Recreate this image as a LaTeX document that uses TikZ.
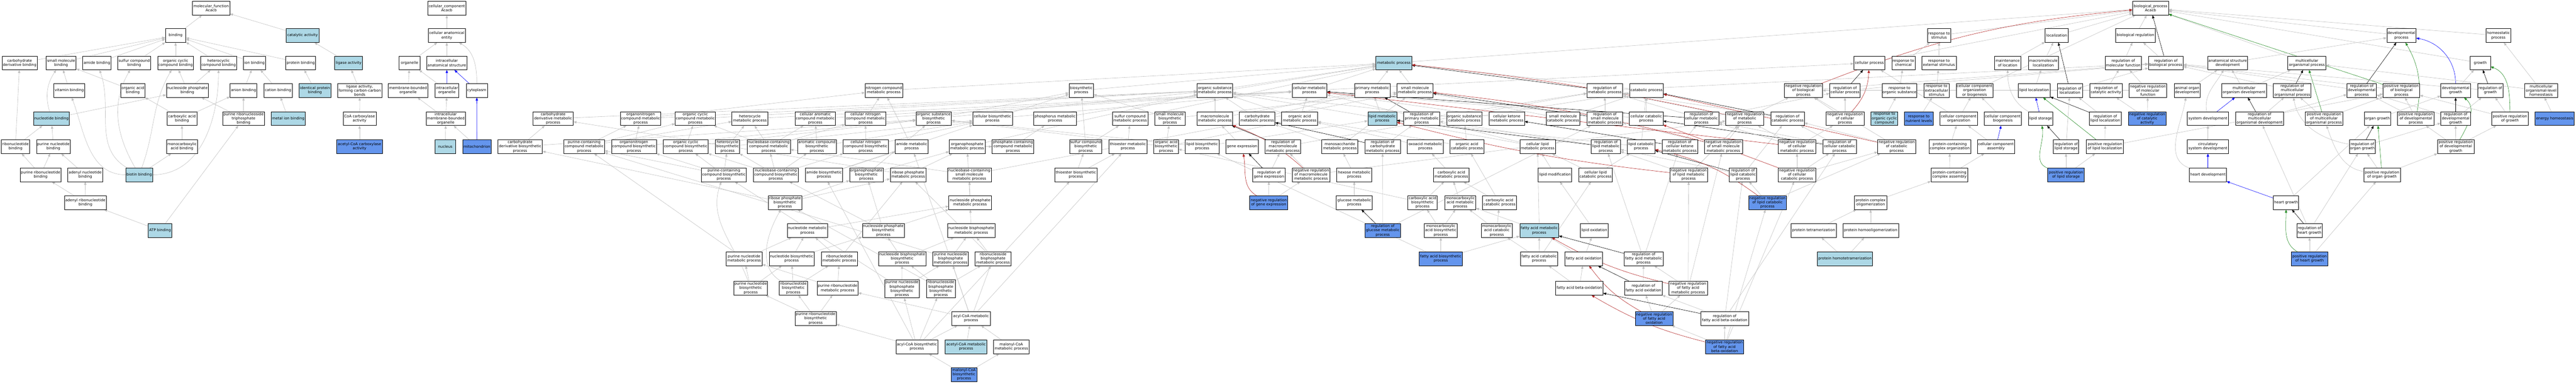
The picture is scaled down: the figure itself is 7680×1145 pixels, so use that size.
\documentclass[tikz,border=0pt]{standalone}
\usepackage{fontspec}
\setmainfont{DejaVu Sans}
\usetikzlibrary{arrows.meta,backgrounds}

\definecolor{hitblue}{RGB}{173,216,230}
\definecolor{focusblue}{RGB}{100,149,237}
\definecolor{edgegray}{RGB}{192,192,192}
\definecolor{negred}{RGB}{178,34,34}
\definecolor{posgreen}{RGB}{34,139,34}

\begin{document}
\begin{tikzpicture}[
  x=1pt, y=-1pt,
  >={Triangle[length=9pt,width=7pt]},
  font=\fontsize{11pt}{12.8pt}\selectfont,
  term/.style={draw=black, line width=1pt, fill=white, inner xsep=1pt, inner ysep=0pt, align=center, minimum height=41pt},
  hit/.style={term, fill=hitblue},
  focus/.style={term, fill=focusblue},
  w/.style={minimum width=#1pt},
  tall/.style={minimum height=54pt},
  isa/.style={->, draw=edgegray, line width=0.9pt},
  partof/.style={->, draw=blue, line width=0.9pt},
  reg/.style={->, draw=black, line width=0.9pt},
  negreg/.style={->, draw=negred, line width=0.9pt},
  posreg/.style={->, draw=posgreen, line width=0.9pt}
]
\useasboundingbox (0,0) rectangle (7680,1145);

% ---------------- molecular function ----------------
\node[term,w=111] (mf) at (629.5,24.5) {molecular\_function\\Acacb};
\node[term,w=61] (binding) at (523.5,106) {binding};
\node[hit,w=98] (catalytic) at (902,106) {catalytic activity};
\node[term,w=105] (carbderivbind) at (58.5,187.7) {carbohydrate\\derivative binding};
\node[term,w=90] (smallmolbind) at (182,187.7) {small molecule\\binding};
\node[term,w=84] (amidebind) at (289,187.7) {amide binding};
\node[term,w=98] (sulfurbind) at (400,187.7) {sulfur compound\\binding};
\node[term,w=107] (orgcycbind) at (523.5,187.7) {organic cyclic\\compound binding};
\node[term,w=107] (heterocycbind) at (651.5,187.7) {heterocyclic\\compound binding};
\node[term,w=67] (ionbind) at (758.5,187.7) {ion binding};
\node[term,w=89] (proteinbind) at (896.5,187.7) {protein binding};
\node[hit,w=83] (ligase) at (1039.5,187.7) {ligase activity};
\node[term,w=91] (vitbind) at (206.5,270) {vitamin binding};
\node[term,w=72] (orgacidbind) at (396,270) {organic acid\\binding};
\node[term,w=125] (nucphosbind) at (558.5,270) {nucleoside phosphate\\binding};
\node[term,w=80] (anionbind) at (726,270) {anion binding};
\node[term,w=84] (cationbind) at (829,270) {cation binding};
\node[hit,w=96] (identprot) at (939,270) {identical protein\\binding};
\node[term,w=131] (ligasecc) at (1072.5,270) {ligase activity,\\forming carbon-carbon\\bonds};
\node[hit,w=107] (nucbind) at (153.5,354) {nucleotide binding};
\node[term,w=89] (carboxbind) at (542.5,354) {carboxylic acid\\binding};
\node[term,w=124] (purribtri) at (726,354) {purine ribonucleoside\\triphosphate\\binding};
\node[hit,w=101] (metalion) at (859.5,354) {metal ion binding};
\node[term,w=98] (coacarb) at (1072,354) {CoA carboxylase\\activity};
\node[term,w=84] (ribonucbind) at (46,437.4) {ribonucleotide\\binding};
\node[term,w=100] (purnucbind) at (159,437.4) {purine nucleotide\\binding};
\node[term,w=93] (monocarbbind) at (542.5,437.4) {monocarboxylic\\acid binding};
\node[focus,w=136] (acetylcoacarb) at (1072,437.4) {acetyl-CoA carboxylase\\activity};
\node[term,w=122] (purribnucbind) at (121,521.5) {purine ribonucleotide\\binding};
\node[term,w=104] (adenylnucbind) at (254,521.5) {adenyl nucleotide\\binding};
\node[hit,w=80] (biotinbind) at (415,521.5) {biotin binding};
\node[term,w=125] (adenylribbind) at (254.5,604.6) {adenyl ribonucleotide\\binding};
\node[hit,w=70] (atpbind) at (477,688) {ATP binding};

% ---------------- cellular component ----------------
\node[term,w=114] (cc) at (1332,24.5) {cellular\_component\\Acacb};
\node[term,w=111] (cae) at (1332,106) {cellular anatomical\\entity};
\node[term,w=62] (organelle) at (1221,187.7) {organelle};
\node[term,w=120] (ias) at (1332,187.7) {intracellular\\anatomical structure};
\node[term,w=119] (membound) at (1216.5,270) {membrane-bounded\\organelle};
\node[term,w=71] (intorg) at (1332.5,270) {intracellular\\organelle};
\node[term,w=63] (cytoplasm) at (1421.5,270) {cytoplasm};
\node[term,w=118] (imbo) at (1329,354) {intracellular\\membrane-bounded\\organelle};
\node[hit,w=61] (nucleus) at (1327.5,437.4) {nucleus};
\node[focus,w=84] (mito) at (1422,437.4) {mitochondrion};

% ---------------- biological process: top ----------------
\node[term,w=107] (bp) at (6411.5,24.5) {biological\_process\\Acacb};
\node[term,w=70] (respstim) at (5781,106) {response to\\stimulus};
\node[term,w=69] (localization) at (6131.5,106) {localization};
\node[term,w=119] (bioreg) at (6366.5,106) {biological regulation};
\node[term,w=87] (devproc) at (7159.5,106) {developmental\\process};
\node[term,w=73] (homeoproc) at (7448.5,106) {homeostatic\\process};
\node[hit,w=107] (metab) at (4155.5,187.7) {metabolic process};
\node[term,w=92] (cellproc) at (5573,187.7) {cellular process};
\node[term,w=69] (respchem) at (5674.5,187.7) {response to\\chemical};
\node[term,w=103] (respext) at (5780.5,187.7) {response to\\external stimulus};
\node[term,w=77] (maintloc) at (5985.5,187.7) {maintenance\\of location};
\node[term,w=90] (macroloc) at (6092,187.7) {macromolecule\\localization};
\node[term,w=108] (regmolfunc) at (6330,187.7) {regulation of\\molecular function};
\node[term,w=104] (regbp) at (6457,187.7) {regulation of\\biological process};
\node[term,w=119] (asd) at (6641.5,187.7) {anatomical structure\\development};
\node[term,w=113] (mop) at (6877.5,187.7) {multicellular\\organismal process};
\node[term,w=61] (growth) at (7394.5,187.7) {growth};

% row 3
\node[term,w=112] (ncmp) at (2635,270) {nitrogen compound\\metabolic process};
\node[term,w=73] (biosyn) at (3223.5,270) {biosynthetic\\process};
\node[term,w=106] (osmp) at (3622,270) {organic substance\\metabolic process};
\node[term,w=104] (cellmp) at (3904,270) {cellular metabolic\\process};
\node[term,w=106] (primmp) at (4091,270) {primary metabolic\\process};
\node[term,w=107] (smmp) at (4218.5,270) {small molecule\\metabolic process};
\node[term,w=107] (regmp) at (4784.5,270) {regulation of\\metabolic process};
\node[term,w=100] (catabolic) at (4909,270) {catabolic process};
\node[term,w=113] (negregbp) at (5376.5,270) {negative regulation\\of biological\\process};
\node[term,w=91] (regcellproc) at (5500.5,270) {regulation of\\cellular process};
\node[term,w=104] (resporgsub) at (5663,270) {response to\\organic substance};
\node[term,w=75] (respextra) at (5773.5,270) {response to\\extracellular\\stimulus};
\node[term,w=110] (ccob) at (5887,270) {cellular component\\organization\\or biogenesis};
\node[term,w=95] (lipidloc) at (6064.5,270) {lipid localization};
\node[term,w=76] (regloc) at (6171,270) {regulation of\\localization};
\node[term,w=97] (regcatact) at (6278.5,270) {regulation of\\catalytic activity};
\node[term,w=113] (negregmolfunc) at (6403.5,270) {negative regulation\\of molecular\\function};
\node[term,w=77] (aod) at (6520.5,270) {animal organ\\development};
\node[term,w=134] (mod) at (6690,270) {multicellular\\organism development};
\node[term,w=112] (regmop) at (6834,270) {regulation of\\multicellular\\organismal process};
\node[term,w=88] (regdevproc) at (7041,270) {regulation of\\developmental\\process};
\node[term,w=109] (posregbp) at (7159.5,270) {positive regulation\\of biological\\process};
\node[term,w=88] (devgrowth) at (7321,270) {developmental\\growth};
\node[term,w=75] (reggrowth) at (7424.5,270) {regulation of\\growth};
\node[term,w=98] (molh) at (7576,270) {multicellular\\organismal-level\\homeostasis};

% row 4
\node[term,w=120] (cdmp) at (1649,354) {carbohydrate\\derivative metabolic\\process};
\node[term,w=120] (onmp) at (1910,354) {organonitrogen\\compound metabolic\\process};
\node[term,w=120] (occmp) at (2073,354) {organic cyclic\\compound metabolic\\process};
\node[term,w=107] (hetmp) at (2235.5,354) {heterocycle\\metabolic process};
\node[term,w=121] (aromp) at (2430.5,354) {cellular aromatic\\compound metabolic\\process};
\node[term,w=121] (cncmp) at (2580.5,354) {cellular nitrogen\\compound metabolic\\process};
\node[term,w=105] (osbp) at (2783.5,354) {organic substance\\biosynthetic\\process};
\node[term,w=118] (cbp) at (2959,354) {cellular biosynthetic\\process};
\node[term,w=127] (phosmp) at (3145.5,354) {phosphorus metabolic\\process};
\node[term,w=106] (scmp) at (3369,354) {sulfur compound\\metabolic process};
\node[term,w=90] (smbp) at (3488,354) {small molecule\\biosynthetic\\process};
\node[term,w=106] (macromp) at (3622,354) {macromolecule\\metabolic process};
\node[term,w=106] (carbmp) at (3748,354) {carbohydrate\\metabolic process};
\node[term,w=107] (oamp) at (3874.5,354) {organic acid\\metabolic process};
\node[hit,w=86] (lipidmp) at (4121,354) {lipid metabolic\\process};
\node[term,w=107] (regprimmp) at (4238.5,354) {regulation of\\primary metabolic\\process};
\node[term,w=105] (oscp) at (4365.5,354) {organic substance\\catabolic process};
\node[term,w=106] (cketmp) at (4492,354) {cellular ketone\\metabolic process};
\node[term,w=100] (smcp) at (4660,354) {small molecule\\catabolic process};
\node[term,w=107] (regsmmp) at (4784.5,354) {regulation of\\small molecule\\metabolic process};
\node[term,w=100] (cellcp) at (4908,354) {cellular catabolic\\process};
\node[term,w=103] (regcellmp) at (5072.5,354) {regulation of\\cellular metabolic\\process};
\node[term,w=113] (negregmp) at (5201.5,354) {negative regulation\\of metabolic\\process};
\node[term,w=99] (regcatab) at (5329.5,354) {regulation of\\catabolic process};
\node[term,w=113] (negregcellproc) at (5500.5,354) {negative regulation\\of cellular\\process};
\node[hit,w=80] (resporgcyc) at (5618,354) {response to\\organic cyclic\\compound};
\node[focus,w=85] (respnut) at (5720.5,354) {response to\\nutrient levels};
\node[term,w=111] (cco) at (5839.5,354) {cellular component\\organization};
\node[term,w=110] (ccb) at (5971,354) {cellular component\\biogenesis};
\node[term,w=72] (lipidstor) at (6084,354) {lipid storage};
\node[term,w=95] (reglipidloc) at (6276.5,354) {regulation of\\lipid localization};
\node[focus,w=113] (negregcatact) at (6401.5,354) {negative regulation\\of catalytic\\activity};
\node[term,w=123] (sysdev) at (6582.5,354) {system development};
\node[term,w=143] (regmod) at (6736.5,354) {regulation of\\multicellular\\organismal development};
\node[term,w=113] (posregmop) at (6928.5,354) {positive regulation\\of multicellular\\organismal process};
\node[term,w=78] (organgrowth) at (7088,354) {organ growth};
\node[term,w=109] (posregdevproc) at (7202.5,354) {positive regulation\\of developmental\\process};
\node[term,w=88] (regdevgrowth) at (7321,354) {regulation of\\developmental\\growth};
\node[term,w=108] (posreggrowth) at (7483,354) {positive regulation\\of growth};
\node[focus,w=117] (energyhomeo) at (7616.5,354) {energy homeostasis};

% row 5
\node[term,w=133] (cdbp) at (1550.5,437.4) {carbohydrate\\derivative biosynthetic\\process};
\node[term,w=121] (pccmp) at (1741.5,437.4) {purine-containing\\compound metabolic\\process};
\node[term,w=134] (onbp) at (1890,437.4) {organonitrogen\\compound biosynthetic\\process};
\node[term,w=133] (occbp) at (2044.5,437.4) {organic cyclic\\compound biosynthetic\\process};
\node[term,w=72] (hetbp) at (2169,437.4) {heterocycle\\biosynthetic\\process};
\node[term,w=129] (nccmp) at (2291.5,437.4) {nucleobase-containing\\compound metabolic\\process};
\node[term,w=115] (acbp) at (2435.5,437.4) {aromatic compound\\biosynthetic\\process};
\node[term,w=134] (cncbp) at (2581,437.4) {cellular nitrogen\\compound biosynthetic\\process};
\node[term,w=98] (amidemp) at (2718,437.4) {amide metabolic\\process};
\node[term,w=107] (opmp) at (2883.5,437.4) {organophosphate\\metabolic process};
\node[term,w=124] (pccompmp) at (3020,437.4) {phosphate-containing\\compound metabolic\\process};
\node[term,w=96] (scbp) at (3237,437.4) {sulfur compound\\biosynthetic\\process};
\node[term,w=113] (thioestermp) at (3362.5,437.4) {thioester metabolic\\process};
\node[term,w=73] (oabp) at (3476.5,437.4) {organic acid\\biosynthetic\\process};
\node[term,w=100] (lipidbp) at (3584,437.4) {lipid biosynthetic\\process};
\node[term,w=96] (geneexp) at (3703,437.4) {gene expression};
\node[term,w=106] (regmacromp) at (3825,437.4) {regulation of\\macromolecule\\metabolic process};
\node[term,w=107] (monosacmp) at (3994.5,437.4) {monosaccharide\\metabolic process};
\node[term,w=106] (regcarbmp) at (4122,437.4) {regulation of\\carbohydrate\\metabolic process};
\node[term,w=107] (oxoacidmp) at (4249.5,437.4) {oxoacid metabolic\\process};
\node[term,w=101] (oacp) at (4373.5,437.4) {organic acid\\catabolic process};
\node[term,w=106] (cellipmp) at (4584,437.4) {cellular lipid\\metabolic process};
\node[term,w=87] (reglipidmp) at (4787.5,437.4) {regulation of\\lipid metabolic\\process};
\node[term,w=83] (lipidcp) at (4892.5,437.4) {lipid catabolic\\process};
\node[term,w=106] (regcketmp) at (5008,437.4) {regulation of\\cellular ketone\\metabolic process};
\node[term,w=114] (negregsmmp) at (5138,437.4) {negative regulation\\of small molecule\\metabolic process};
\node[term,w=113] (negregcellmp) at (5357.5,437.4) {negative regulation\\of cellular\\metabolic process};
\node[term,w=99] (regcellcp) at (5484.5,437.4) {regulation of\\cellular catabolic\\process};
\node[term,w=113] (negregcatab) at (5654.5,437.4) {negative regulation\\of catabolic\\process};
\node[term,w=124] (pcco) at (5813,437.4) {protein-containing\\complex organization};
\node[term,w=111] (cca) at (5950.5,437.4) {cellular component\\assembly};
\node[term,w=75] (reglipidstor) at (6159.5,437.4) {regulation of\\lipid storage};
\node[term,w=111] (posreglipidloc) at (6275.5,437.4) {positive regulation\\of lipid localization};
\node[term,w=123] (circsysdev) at (6582.5,437.4) {circulatory\\system development};
\node[term,w=78] (regorgangrowth) at (7043,437.4) {regulation of\\organ growth};
\node[term,w=109] (posregdevgrowth) at (7321.5,437.4) {positive regulation\\of developmental\\growth};

% row 6
\node[term,w=134] (pccbp) at (2158,521.5) {purine-containing\\compound biosynthetic\\process};
\node[term,w=134] (nccbp) at (2313,521.5) {nucleobase-containing\\compound biosynthetic\\process};
\node[term,w=111] (amidebp) at (2456.5,521.5) {amide biosynthetic\\process};
\node[term,w=100] (opbp) at (2583,521.5) {organophosphate\\biosynthetic\\process};
\node[term,w=107] (rpmp) at (2707.5,521.5) {ribose phosphate\\metabolic process};
\node[term,w=130] (ncsmmp) at (2890,521.5) {nucleobase-containing\\small molecule\\metabolic process};
\node[term,w=125] (thioesterbp) at (3207.5,521.5) {thioester biosynthetic\\process};
\node[term,w=96] (reggeneexp) at (3783,521.5) {regulation of\\gene expression};
\node[term,w=113] (negregmacromp) at (3908.5,521.5) {negative regulation\\of macromolecule\\metabolic process};
\node[term,w=105] (hexosemp) at (4037.5,521.5) {hexose metabolic\\process};
\node[term,w=106] (carboxmp) at (4327,521.5) {carboxylic acid\\metabolic process};
\node[term,w=100] (lipidmod) at (4636,521.5) {lipid modification};
\node[term,w=100] (cellipcp) at (4757,521.5) {cellular lipid\\catabolic process};
\node[term,w=113] (negreglipidmp) at (5034.5,521.5) {negative regulation\\of lipid metabolic\\process};
\node[term,w=81] (reglipidcp) at (5196.5,521.5) {regulation of\\lipid catabolic\\process};
\node[term,w=113] (negregcellcp) at (5357.5,521.5) {negative regulation\\of cellular\\catabolic process};
\node[term,w=110] (pcca) at (5812,521.5) {protein-containing\\complex assembly};
\node[focus,w=109] (posreglipidstor) at (6159.5,521.5) {positive regulation\\of lipid storage};
\node[term,w=111] (heartdev) at (6582.5,521.5) {heart development};
\node[term,w=109] (posregorgangrowth) at (7101.5,521.5) {positive regulation\\of organ growth};

% row 7
\node[term,w=100] (rpbp) at (2340,604.6) {ribose phosphate\\biosynthetic\\process};
\node[term,w=126] (nspmp) at (2892,604.6) {nucleoside phosphate\\metabolic process};
\node[focus,w=113] (negreggeneexp) at (3782.5,604.6) {negative regulation\\of gene expression};
\node[term,w=107] (glucosemp) at (4037.5,604.6) {glucose metabolic\\process};
\node[term,w=88] (carboxbp) at (4241,604.6) {carboxylic acid\\biosynthetic\\process};
\node[term,w=93] (monocarbmp) at (4353.5,604.6) {monocarboxylic\\acid metabolic\\process};
\node[term,w=101] (carboxcp) at (4470.5,604.6) {carboxylic acid\\catabolic process};
\node[focus,w=113] (negreglipidcp) at (5269.5,604.6) {negative regulation\\of lipid catabolic\\process};
\node[term,w=96] (protcomplexolig) at (5577,604.6) {protein complex\\oligomerization};
\node[term,w=75] (heartgrowth) at (6815.5,604.6) {heart growth};

% row 8
\node[term,w=120] (nucmp) at (2407,688) {nucleotide metabolic\\process};
\node[term,w=125] (nspbp) at (2633.5,688) {nucleoside phosphate\\biosynthetic\\process};
\node[term,w=141] (nsbpmp) at (2895.5,688) {nucleoside bisphosphate\\metabolic process};
\node[focus,w=107] (regglucosemp) at (4122.5,688) {regulation of\\glucose metabolic\\process};
\node[term,w=99] (monocarbbp) at (4295.5,688) {monocarboxylic\\acid biosynthetic\\process};
\node[term,w=93] (monocarbcp) at (4462.5,688) {monocarboxylic\\acid catabolic\\process};
\node[hit,w=116] (famp) at (4589,688) {fatty acid metabolic\\process};
\node[term,w=84] (lipidox) at (4753,688) {lipid oxidation};
\node[term,w=134] (prottetra) at (5407,688) {protein tetramerization};
\node[term,w=166] (protholig) at (5577,688) {protein homooligomerization};
\node[term,w=75] (regheartgrowth) at (6885.5,688) {regulation of\\heart growth};

% row 9
\node[term,w=107] (pnmp) at (2218.5,772) {purine nucleotide\\metabolic process};
\node[term,w=134] (nucbp) at (2360,772) {nucleotide biosynthetic\\process};
\node[term,w=107] (rnmp) at (2502.5,772) {ribonucleotide\\metabolic process};
\node[term,w=141] (nsbpbp) at (2689.5,772) {nucleoside bisphosphate\\biosynthetic\\process};
\node[term,w=106] (pnsbpmp) at (2834,772) {purine nucleoside\\bisphosphate\\metabolic process};
\node[term,w=107] (rnsbpmp) at (2960.5,772) {ribonucleoside\\bisphosphate\\metabolic process};
\node[focus,w=129] (fabp) at (4295.5,772) {fatty acid biosynthetic\\process};
\node[term,w=111] (facp) at (4588.5,772) {fatty acid catabolic\\process};
\node[term,w=113] (faox) at (4721.5,772) {fatty acid oxidation};
\node[term,w=116] (regfamp) at (4900,772) {regulation of\\fatty acid metabolic\\process};
\node[hit,w=165] (prothomotetra) at (5500.5,772) {protein homotetramerization};
\node[focus,w=109] (posregheartgrowth) at (6885.5,772) {positive regulation\\of heart growth};

% row 10
\node[term,w=100] (pnbp) at (2238,860) {purine nucleotide\\biosynthetic\\process};
\node[term,w=84] (rnbp) at (2365,860) {ribonucleotide\\biosynthetic\\process};
\node[term,w=122] (prnmp) at (2497,860) {purine ribonucleotide\\metabolic process};
\node[term,tall,w=102] (pnsbpbp) at (2689,862) {purine nucleoside\\bisphosphate\\biosynthetic\\process};
\node[term,tall,w=86] (rnsbpbp) at (2805,862) {ribonucleoside\\bisphosphate\\biosynthetic\\process};
\node[term,w=141] (fabox) at (4708.5,860) {fatty acid beta-oxidation};
\node[term,w=113] (regfaox) at (4899.5,860) {regulation of\\fatty acid oxidation};
\node[term,w=114] (negregfamp) at (5033,860) {negative regulation\\of fatty acid\\metabolic process};

% row 11
\node[term,w=123] (prnbp) at (2431.5,950.5) {purine ribonucleotide\\biosynthetic\\process};
\node[term,w=114] (acylcoamp) at (2895,950.5) {acyl-CoA metabolic\\process};
\node[focus,w=113] (negregfaox) at (4931.5,950.5) {negative regulation\\of fatty acid\\oxidation};
\node[term,w=142] (regfabox) at (5142,950.5) {regulation of\\fatty acid beta-oxidation};

% row 12
\node[term,w=125] (acylcoabp) at (2733.5,1034.7) {acyl-CoA biosynthetic\\process};
\node[hit,w=124] (acetylcoamp) at (2880,1034.7) {acetyl-CoA metabolic\\process};
\node[term,w=106] (malonylcoamp) at (3015,1034.7) {malonyl-CoA\\metabolic process};
\node[focus,w=113] (negregfabox) at (5141.5,1034.7) {negative regulation\\of fatty acid\\beta-oxidation};

% row 13
\node[focus,w=76] (malonylcoabp) at (2874,1117.5) {malonyl-CoA\\biosynthetic\\process};

\begin{scope}[on background layer]
\fill[white] (0,0) rectangle (7680,1145);

% molecular function
\draw[isa] (binding) -- (mf);
\draw[isa] (catalytic) -- (mf);
\draw[isa] (carbderivbind) -- (binding);
\draw[isa] (smallmolbind) -- (binding);
\draw[isa] (amidebind) -- (binding);
\draw[isa] (sulfurbind) -- (binding);
\draw[isa] (orgcycbind) -- (binding);
\draw[isa] (heterocycbind) -- (binding);
\draw[isa] (ionbind) -- (binding);
\draw[isa] (proteinbind) -- (binding);
\draw[isa] (vitbind) -- (smallmolbind);
\draw[isa] (orgacidbind) -- (smallmolbind);
\draw[isa] (nucphosbind) -- (orgcycbind);
\draw[isa] (nucphosbind) -- (heterocycbind);
\draw[isa] (nucbind) to[bend left=25] (smallmolbind);
\draw[isa] (nucbind) -- (nucphosbind);
\draw[isa] (carboxbind) -- (orgacidbind);
\draw[isa] (carboxbind) -- (anionbind);
\draw[isa] (ribonucbind) -- (carbderivbind);
\draw[isa] (ribonucbind) -- (nucbind);
\draw[isa] (purnucbind) -- (nucbind);
\draw[isa] (monocarbbind) -- (carboxbind);
\draw[isa] (purribnucbind) -- (ribonucbind);
\draw[isa] (purribnucbind) -- (purnucbind);
\draw[isa] (adenylnucbind) -- (purnucbind);
\draw[isa] (adenylribbind) -- (purribnucbind);
\draw[isa] (adenylribbind) -- (adenylnucbind);
\draw[isa] (atpbind) -- (adenylribbind);
\draw[isa] (atpbind) -- (purribtri);
\draw[isa] (biotinbind) to[out=180,in=-70] (vitbind);
\draw[isa] (biotinbind) to[out=150,in=-70] (amidebind);
\draw[isa] (biotinbind) to[out=120,in=-120] (sulfurbind);
\draw[isa] (biotinbind) to[out=70,in=-120] (orgcycbind);
\draw[isa] (biotinbind) -- (monocarbbind);
\draw[isa] (biotinbind) to[out=0,in=-90] (heterocycbind);
\draw[isa] (purribtri) -- (anionbind);
\draw[isa] (purribtri) -- (nucphosbind);
\draw[isa] (anionbind) -- (ionbind);
\draw[isa] (cationbind) -- (ionbind);
\draw[isa] (metalion) -- (cationbind);
\draw[isa] (identprot) -- (proteinbind);
\draw[isa] (ligase) -- (catalytic);
\draw[isa] (ligasecc) -- (ligase);
\draw[isa] (coacarb) -- (ligasecc);
\draw[isa] (acetylcoacarb) -- (coacarb);

% cellular component
\draw[isa] (cae) -- (cc);
\draw[isa] (ias) -- (cae);
\draw[isa] (organelle) -- (cae);
\draw[isa] (cytoplasm) to[out=90,in=-30] (cae);
\draw[isa] (membound) -- (organelle);
\draw[isa] (intorg) -- (organelle);
\draw[partof] (intorg) -- (ias);
\draw[partof] (cytoplasm) -- (ias);
\draw[isa] (imbo) -- (membound);
\draw[isa] (imbo) -- (intorg);
\draw[isa] (nucleus) -- (imbo);
\draw[isa] (mito) -- (imbo);
\draw[partof] (mito) -- (cytoplasm);

% biological process: top level
\draw[isa] (metab) -- (bp);
\draw[isa] (cellproc) -- (bp);
\draw[isa] (respstim) -- (bp);
\draw[isa] (localization) -- (bp);
\draw[isa] (bioreg) -- (bp);
\draw[isa] (devproc) -- (bp);
\draw[isa] (homeoproc) -- (bp);
\draw[isa] (growth) -- (bp);
\draw[isa] (mop) -- (bp);
\draw[isa] (ccob) -- (bp);
\draw[negreg] (negregbp) to[bend left=8] (bp);
\draw[posreg] (posregbp) -- (bp);
\draw[reg] (regbp) -- (bp);
\draw[isa] (regbp) -- (bioreg);

% metabolism
\draw[isa] (cellmp) -- (metab);
\draw[isa] (cellmp) -- (cellproc);
\draw[isa] (primmp) -- (metab);
\draw[isa] (smmp) -- (metab);
\draw[isa] (osmp) -- (metab);
\draw[isa] (ncmp) -- (metab);
\draw[isa] (biosyn) -- (metab);
\draw[isa] (catabolic) -- (metab);
\draw[isa] (phosmp) -- (metab);
\draw[isa] (scmp) -- (metab);
\draw[reg] (regmp) -- (metab);
\draw[negreg] (negregmp) to[bend right=3] (metab);
\draw[isa] (regmp) -- (regbp);
\draw[isa] (negregmp) -- (regmp);
\draw[isa] (negregmp) -- (negregbp);
\draw[isa] (osbp) -- (biosyn);
\draw[isa] (osbp) -- (osmp);
\draw[isa] (cbp) -- (biosyn);
\draw[isa] (cbp) -- (cellmp);
\draw[isa] (macromp) -- (osmp);
\draw[isa] (macromp) -- (primmp);
\draw[isa] (carbmp) -- (primmp);
\draw[isa] (carbmp) -- (osmp);
\draw[isa] (oamp) -- (osmp);
\draw[isa] (oamp) -- (cellmp);
\draw[isa] (smbp) -- (smmp);
\draw[isa] (smbp) -- (biosyn);
\draw[isa] (lipidmp) -- (primmp);
\draw[isa] (lipidmp) -- (osmp);
\draw[reg] (regprimmp) -- (primmp);
\draw[isa] (regprimmp) -- (regmp);
\draw[isa] (oscp) -- (osmp);
\draw[isa] (oscp) -- (catabolic);
\draw[isa] (cketmp) -- (cellmp);
\draw[isa] (cncmp) -- (ncmp);
\draw[isa] (cncmp) -- (cellmp);
\draw[isa] (cncbp) -- (cncmp);
\draw[isa] (cncbp) -- (cbp);
\draw[isa] (onmp) -- (ncmp);
\draw[isa] (onmp) -- (osmp);
\draw[isa] (onbp) -- (onmp);
\draw[isa] (onbp) -- (osbp);
\draw[isa] (cdmp) -- (osmp);
\draw[isa] (cdbp) -- (cdmp);
\draw[isa] (cdbp) -- (osbp);
\draw[isa] (occmp) -- (osmp);
\draw[isa] (occbp) -- (occmp);
\draw[isa] (occbp) -- (osbp);
\draw[isa] (hetmp) -- (cellmp);
\draw[isa] (hetbp) -- (hetmp);
\draw[isa] (hetbp) -- (cbp);
\draw[isa] (aromp) -- (cellmp);
\draw[isa] (acbp) -- (aromp);
\draw[isa] (acbp) -- (cbp);
\draw[isa] (nccmp) -- (hetmp);
\draw[isa] (nccmp) -- (aromp);
\draw[isa] (nccmp) -- (cncmp);
\draw[isa] (nccmp) -- (occmp);
\draw[isa] (nccbp) -- (nccmp);
\draw[isa] (nccbp) -- (hetbp);
\draw[isa] (nccbp) -- (acbp);
\draw[isa] (nccbp) -- (cncbp);
\draw[isa] (nccbp) -- (occbp);
\draw[isa] (pccmp) -- (onmp);
\draw[isa] (pccmp) -- (hetmp);
\draw[isa] (pccmp) -- (occmp);
\draw[isa] (pccbp) -- (pccmp);
\draw[isa] (pccbp) -- (hetbp);
\draw[isa] (pccbp) -- (occbp);
\draw[isa] (pccbp) -- (onbp);
\draw[isa] (amidemp) -- (ncmp);
\draw[isa] (amidebp) -- (amidemp);
\draw[isa] (amidebp) -- (cbp);
\draw[isa] (opmp) -- (pccompmp);
\draw[isa] (opmp) -- (osmp);
\draw[isa] (pccompmp) -- (phosmp);
\draw[isa] (opbp) -- (opmp);
\draw[isa] (opbp) -- (osbp);
\draw[isa] (rpmp) -- (cdmp);
\draw[isa] (rpmp) -- (opmp);
\draw[isa] (rpbp) -- (rpmp);
\draw[isa] (rpbp) -- (cdbp);
\draw[isa] (rpbp) -- (opbp);
\draw[isa] (ncsmmp) -- (nccmp);
\draw[isa] (ncsmmp) -- (smmp);
\draw[isa] (nspmp) -- (ncsmmp);
\draw[isa] (nspmp) -- (opmp);
\draw[isa] (nspbp) -- (nspmp);
\draw[isa] (nspbp) -- (opbp);
\draw[isa] (nspbp) -- (nccbp);
\draw[isa] (nucmp) -- (nspmp);
\draw[isa] (nucbp) -- (nucmp);
\draw[isa] (nucbp) -- (nspbp);
\draw[isa] (pnmp) -- (nucmp);
\draw[isa] (pnmp) -- (pccmp);
\draw[isa] (rnmp) -- (nucmp);
\draw[isa] (rnmp) -- (rpmp);
\draw[isa] (pnbp) -- (pnmp);
\draw[isa] (pnbp) -- (nucbp);
\draw[isa] (pnbp) to[out=110,in=-110] (pccbp);
\draw[isa] (rnbp) -- (rnmp);
\draw[isa] (rnbp) -- (nucbp);
\draw[isa] (rnbp) to[out=150,in=-120] (rpbp);
\draw[isa] (prnmp) -- (pnmp);
\draw[isa] (prnmp) -- (rnmp);
\draw[isa] (prnbp) -- (prnmp);
\draw[isa] (prnbp) -- (pnbp);
\draw[isa] (prnbp) -- (rnbp);
\draw[isa] (nsbpmp) -- (nspmp);
\draw[isa] (nsbpbp) -- (nsbpmp);
\draw[isa] (nsbpbp) -- (nspbp);
\draw[isa] (pnsbpmp) -- (nsbpmp);
\draw[isa] (pnsbpmp) -- (pccmp);
\draw[isa] (rnsbpmp) -- (nsbpmp);
\draw[isa] (rnsbpmp) -- (rpmp);
\draw[isa] (pnsbpbp) -- (nsbpbp);
\draw[isa] (pnsbpbp) -- (pnsbpmp);
\draw[isa] (pnsbpbp) -- (pccbp);
\draw[isa] (rnsbpbp) -- (nsbpbp);
\draw[isa] (rnsbpbp) -- (rnsbpmp);
\draw[isa] (rnsbpbp) -- (rpbp);
\draw[isa] (acylcoamp) -- (pnsbpmp);
\draw[isa] (acylcoamp) -- (rnsbpmp);
\draw[isa] (acylcoamp) -- (thioestermp);
\draw[isa] (acylcoamp) -- (amidemp);
\draw[isa] (acylcoamp) -- (prnmp);
\draw[isa] (acylcoabp) -- (acylcoamp);
\draw[isa] (acylcoabp) -- (pnsbpbp);
\draw[isa] (acylcoabp) -- (rnsbpbp);
\draw[isa] (acylcoabp) -- (thioesterbp);
\draw[isa] (acylcoabp) -- (prnbp);
\draw[isa] (acylcoabp) -- (amidebp);
\draw[isa] (acetylcoamp) -- (acylcoamp);
\draw[isa] (malonylcoamp) -- (acylcoamp);
\draw[isa] (malonylcoabp) -- (acylcoabp);
\draw[isa] (malonylcoabp) -- (malonylcoamp);
\draw[isa] (thioestermp) -- (scmp);
\draw[isa] (thioesterbp) -- (thioestermp);
\draw[isa] (thioesterbp) -- (scbp);
\draw[isa] (scbp) -- (scmp);
\draw[isa] (scbp) -- (biosyn);
\draw[isa] (oabp) -- (oamp);
\draw[isa] (oabp) -- (smbp);
\draw[isa] (oabp) -- (osbp);
\draw[isa] (lipidbp) -- (lipidmp);
\draw[isa] (lipidbp) -- (osbp);
\draw[isa] (carboxbp) -- (oabp);
\draw[isa] (carboxbp) -- (carboxmp);
\draw[isa] (monocarbbp) -- (carboxbp);
\draw[isa] (monocarbbp) -- (monocarbmp);
\draw[isa] (monocarbmp) -- (carboxmp);
\draw[isa] (carboxmp) -- (oxoacidmp);
\draw[isa] (oxoacidmp) -- (oamp);
\draw[isa] (oacp) -- (oamp);
\draw[isa] (oacp) -- (oscp);
\draw[isa] (carboxcp) -- (carboxmp);
\draw[isa] (carboxcp) -- (oacp);
\draw[isa] (monocarbcp) -- (monocarbmp);
\draw[isa] (monocarbcp) -- (carboxcp);
\draw[isa] (famp) -- (monocarbmp);
\draw[isa] (famp) -- (cellipmp);
\draw[isa] (facp) -- (famp);
\draw[isa] (facp) -- (monocarbcp);
\draw[isa] (facp) -- (cellipcp);
\draw[isa] (faox) -- (famp);
\draw[isa] (faox) -- (lipidox);
\draw[isa] (fabox) -- (facp);
\draw[isa] (fabox) -- (faox);
\draw[isa] (lipidox) -- (lipidmod);
\draw[isa] (lipidmod) -- (cellipmp);
\draw[isa] (cellipcp) -- (cellipmp);
\draw[isa] (cellipcp) -- (lipidcp);
\draw[isa] (cellipmp) -- (lipidmp);
\draw[isa] (cellipmp) -- (cellmp);
\draw[isa] (lipidcp) -- (lipidmp);
\draw[isa] (lipidcp) -- (catabolic);
\draw[isa] (smcp) -- (smmp);
\draw[isa] (smcp) -- (catabolic);
\draw[isa] (cellcp) -- (catabolic);
\draw[isa] (cellcp) -- (cellmp);
\draw[isa] (fabp) -- (monocarbbp);
\draw[isa] (fabp) -- (lipidbp);
\draw[isa] (fabp) -- (famp);
\draw[isa] (monosacmp) -- (carbmp);
\draw[isa] (monosacmp) -- (smmp);
\draw[isa] (hexosemp) -- (monosacmp);
\draw[isa] (glucosemp) -- (hexosemp);

% regulation of metabolism
\draw[reg] (regglucosemp) -- (glucosemp);
\draw[isa] (regglucosemp) -- (regcarbmp);
\draw[isa] (regglucosemp) -- (regsmmp);
\draw[reg] (regcarbmp) -- (carbmp);
\draw[isa] (regcarbmp) -- (regprimmp);
\draw[reg] (regmacromp) -- (macromp);
\draw[isa] (regmacromp) -- (regmp);
\draw[reg] (reggeneexp) -- (geneexp);
\draw[isa] (reggeneexp) -- (regmacromp);
\draw[negreg] (negreggeneexp) to[out=150,in=-80] (geneexp);
\draw[isa] (negreggeneexp) -- (reggeneexp);
\draw[isa] (negreggeneexp) -- (negregmacromp);
\draw[negreg] (negregmacromp) to[bend right=10] (macromp);
\draw[isa] (negregmacromp) -- (regmacromp);
\draw[isa] (negregmacromp) -- (negregmp);
\draw[isa] (geneexp) -- (macromp);
\draw[reg] (regsmmp) -- (smmp);
\draw[isa] (regsmmp) -- (regmp);
\draw[reg] (regcellmp) -- (cellmp);
\draw[isa] (regcellmp) -- (regmp);
\draw[isa] (regcellmp) -- (regcellproc);
\draw[reg] (reglipidmp) -- (lipidmp);
\draw[isa] (reglipidmp) -- (regprimmp);
\draw[reg] (regcketmp) -- (cketmp);
\draw[isa] (regcketmp) -- (regcellmp);
\draw[negreg] (negregsmmp) to[bend right=4] (smmp);
\draw[isa] (negregsmmp) -- (regsmmp);
\draw[isa] (negregsmmp) -- (negregmp);
\draw[negreg] (negreglipidmp) to[bend left=4] (lipidmp);
\draw[isa] (negreglipidmp) -- (reglipidmp);
\draw[isa] (negreglipidmp) -- (negregmp);
\draw[reg] (regfamp) -- (famp);
\draw[isa] (regfamp) -- (reglipidmp);
\draw[isa] (regfamp) -- (regcketmp);
\draw[reg] (regfaox) -- (faox);
\draw[isa] (regfaox) -- (regfamp);
\draw[negreg] (negregfamp) to[bend left=8] (famp);
\draw[isa] (negregfamp) -- (regfamp);
\draw[isa] (negregfamp) -- (negreglipidmp);
\draw[isa] (negregfamp) -- (negregsmmp);
\draw[negreg] (negregfaox) to[bend left=12] (faox);
\draw[isa] (negregfaox) -- (regfaox);
\draw[isa] (negregfaox) -- (negregfamp);
\draw[reg] (regfabox) -- (fabox);
\draw[isa] (regfabox) -- (regfaox);
\draw[isa] (regfabox) -- (reglipidcp);
\draw[isa] (regfabox) -- (regcellcp);
\draw[negreg] (negregfabox) to[bend left=8] (fabox);
\draw[isa] (negregfabox) -- (regfabox);
\draw[isa] (negregfabox) -- (negregfaox);
\draw[isa] (negregfabox) -- (negreglipidcp);
\draw[isa] (negregfabox) -- (negregcellcp);
\draw[reg] (regcatab) -- (catabolic);
\draw[isa] (regcatab) -- (regmp);
\draw[reg] (regcellcp) -- (cellcp);
\draw[isa] (regcellcp) -- (regcatab);
\draw[isa] (regcellcp) -- (regcellmp);
\draw[reg] (reglipidcp) -- (lipidcp);
\draw[isa] (reglipidcp) -- (reglipidmp);
\draw[isa] (reglipidcp) -- (regcatab);
\draw[negreg] (negregcatab) -- (catabolic);
\draw[isa] (negregcatab) -- (regcatab);
\draw[isa] (negregcatab) -- (negregbp);
\draw[negreg] (negregcellcp) -- (cellcp);
\draw[isa] (negregcellcp) -- (regcellcp);
\draw[isa] (negregcellcp) -- (negregcatab);
\draw[isa] (negregcellcp) -- (negregcellmp);
\draw[negreg] (negreglipidcp) to[bend right=12] (lipidcp);
\draw[isa] (negreglipidcp) -- (reglipidcp);
\draw[isa] (negreglipidcp) -- (negregcatab);
\draw[negreg] (negregcellmp) -- (cellmp);
\draw[isa] (negregcellmp) -- (regcellmp);
\draw[isa] (negregcellmp) -- (negregmp);
\draw[isa] (negregcellmp) -- (negregcellproc);
\draw[reg] (regcellproc) -- (cellproc);
\draw[isa] (regcellproc) -- (regbp);
\draw[negreg] (negregcellproc) to[bend right=20] (cellproc);
\draw[isa] (negregcellproc) -- (regcellproc);
\draw[isa] (negregcellproc) -- (negregbp);
\draw[isa] (negregbp) -- (regbp);

% response, organization, localization
\draw[isa] (respext) -- (respstim);
\draw[isa] (respextra) -- (respext);
\draw[isa] (respnut) -- (respextra);
\draw[isa] (respchem) -- (respstim);
\draw[isa] (resporgsub) -- (respchem);
\draw[isa] (resporgcyc) -- (resporgsub);
\draw[isa] (cco) -- (ccob);
\draw[isa] (ccb) -- (ccob);
\draw[isa] (cco) -- (cellproc);
\draw[isa] (cca) -- (cco);
\draw[partof] (cca) -- (ccb);
\draw[isa] (pcco) -- (cco);
\draw[isa] (pcca) -- (pcco);
\draw[isa] (pcca) -- (cca);
\draw[isa] (protcomplexolig) -- (pcca);
\draw[isa] (prottetra) -- (protcomplexolig);
\draw[isa] (protholig) -- (protcomplexolig);
\draw[isa] (prothomotetra) -- (prottetra);
\draw[isa] (prothomotetra) -- (protholig);
\draw[isa] (maintloc) -- (localization);
\draw[isa] (macroloc) -- (localization);
\draw[isa] (lipidloc) -- (macroloc);
\draw[partof] (lipidstor) -- (lipidloc);
\draw[isa] (lipidstor) to[out=150,in=-90] (maintloc);
\draw[reg] (regloc) -- (localization);
\draw[isa] (regloc) -- (regbp);
\draw[reg] (reglipidloc) -- (lipidloc);
\draw[isa] (reglipidloc) -- (regloc);
\draw[posreg] (posreglipidloc) -- (lipidloc);
\draw[isa] (posreglipidloc) -- (reglipidloc);
\draw[isa] (posreglipidloc) -- (posregbp);
\draw[reg] (reglipidstor) -- (lipidstor);
\draw[isa] (reglipidstor) -- (regloc);
\draw[posreg] (posreglipidstor) to[out=160,in=-80] (lipidstor);
\draw[isa] (posreglipidstor) -- (reglipidstor);
\draw[isa] (posreglipidstor) -- (posreglipidloc);
\draw[isa] (regmolfunc) -- (bioreg);
\draw[isa] (regcatact) -- (regmolfunc);
\draw[isa] (negregmolfunc) -- (regmolfunc);
\draw[isa] (negregmolfunc) -- (negregbp);
\draw[isa] (negregcatact) -- (regcatact);
\draw[isa] (negregcatact) -- (negregmolfunc);

% development and growth
\draw[isa] (asd) -- (devproc);
\draw[isa] (aod) -- (asd);
\draw[isa] (mod) -- (asd);
\draw[isa] (mod) -- (mop);
\draw[partof] (sysdev) -- (mod);
\draw[isa] (sysdev) to[out=100,in=-120] (asd);
\draw[isa] (circsysdev) -- (sysdev);
\draw[partof] (heartdev) -- (circsysdev);
\draw[isa] (heartdev) to[out=160,in=-100] (aod);
\draw[reg] (regmop) -- (mop);
\draw[isa] (regmop) -- (regbp);
\draw[reg] (regmod) -- (mod);
\draw[isa] (regmod) -- (regmop);
\draw[isa] (regmod) -- (regdevproc);
\draw[posreg] (posregmop) -- (mop);
\draw[isa] (posregmop) -- (regmop);
\draw[isa] (posregmop) -- (posregbp);
\draw[reg] (regdevproc) -- (devproc);
\draw[isa] (regdevproc) -- (regbp);
\draw[isa] (posregbp) -- (regbp);
\draw[posreg] (posregdevproc) to[out=80,in=-60] (devproc);
\draw[isa] (posregdevproc) -- (regdevproc);
\draw[isa] (posregdevproc) -- (posregbp);
\draw[isa] (devgrowth) -- (growth);
\draw[partof] (devgrowth) to[out=90,in=-10] (devproc);
\draw[reg] (reggrowth) -- (growth);
\draw[isa] (reggrowth) -- (regbp);
\draw[posreg] (posreggrowth) to[out=90,in=-20] (growth);
\draw[isa] (posreggrowth) -- (reggrowth);
\draw[isa] (posreggrowth) -- (posregbp);
\draw[reg] (regdevgrowth) -- (devgrowth);
\draw[isa] (regdevgrowth) -- (reggrowth);
\draw[isa] (regdevgrowth) -- (regdevproc);
\draw[posreg] (posregdevgrowth) to[out=60,in=-40] (devgrowth);
\draw[isa] (posregdevgrowth) -- (regdevgrowth);
\draw[isa] (posregdevgrowth) -- (posregdevproc);
\draw[isa] (posregdevgrowth) -- (posreggrowth);
\draw[isa] (organgrowth) -- (devgrowth);
\draw[reg] (regorgangrowth) -- (organgrowth);
\draw[isa] (regorgangrowth) -- (regdevgrowth);
\draw[isa] (regorgangrowth) to[out=170,in=-80] (regmop);
\draw[posreg] (posregorgangrowth) -- (organgrowth);
\draw[isa] (posregorgangrowth) -- (regorgangrowth);
\draw[isa] (posregorgangrowth) -- (posregdevgrowth);
\draw[isa] (posregorgangrowth) to[out=170,in=-70] (posregmop);
\draw[isa] (heartgrowth) -- (organgrowth);
\draw[partof] (heartgrowth) -- (heartdev);
\draw[reg] (regheartgrowth) -- (heartgrowth);
\draw[isa] (regheartgrowth) -- (regorgangrowth);
\draw[isa] (regheartgrowth) -- (regmod);
\draw[posreg] (posregheartgrowth) to[out=150,in=-90] (heartgrowth);
\draw[isa] (posregheartgrowth) -- (regheartgrowth);
\draw[isa] (posregheartgrowth) -- (posregorgangrowth);
\draw[isa] (molh) -- (homeoproc);
\draw[isa] (molh) -- (mop);
\draw[isa] (energyhomeo) -- (molh);
\end{scope}
\end{tikzpicture}
\end{document}
